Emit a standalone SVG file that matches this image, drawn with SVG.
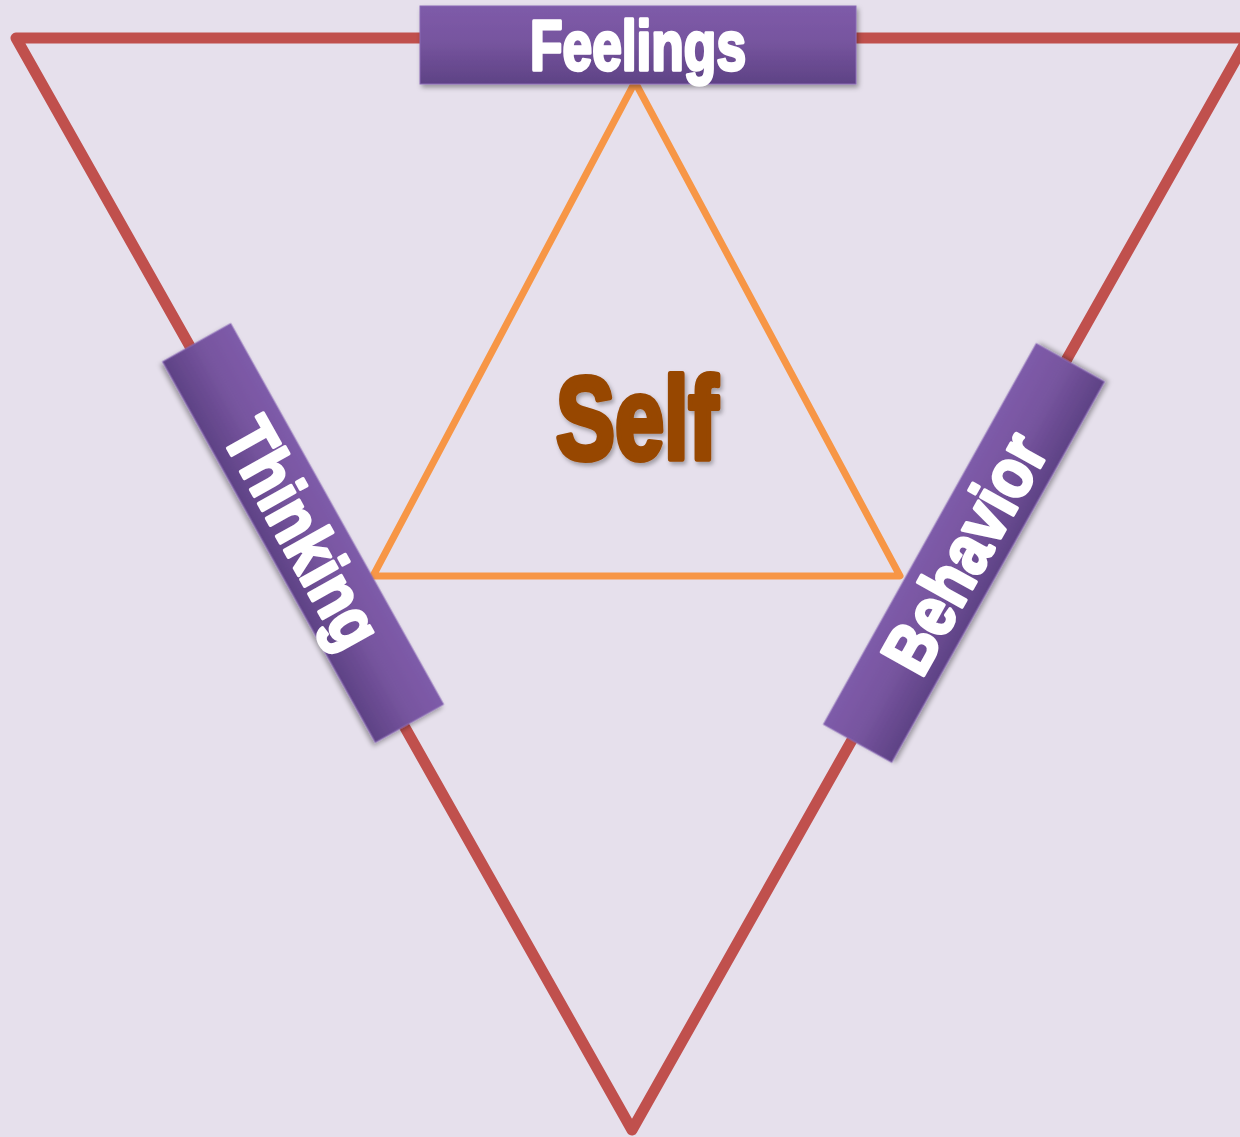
<svg xmlns="http://www.w3.org/2000/svg" width="1240" height="1137" viewBox="0 0 1240 1137">
<defs>
<linearGradient id="boxGrad" x1="0" y1="0" x2="0" y2="1">
<stop offset="0" stop-color="#7E5BA9"/>
<stop offset="0.45" stop-color="#77559F"/>
<stop offset="1" stop-color="#5E4285"/>
</linearGradient>
<filter id="shadow" x="-20%" y="-40%" width="140%" height="180%">
<feDropShadow dx="2" dy="3" stdDeviation="2.5" flood-color="#000" flood-opacity="0.35"/>
</filter>
<filter id="tshadow" x="-20%" y="-20%" width="140%" height="140%">
<feDropShadow dx="2" dy="3" stdDeviation="2" flood-color="#000" flood-opacity="0.3"/>
</filter>
</defs>
<style>
.bg{fill:#E6E0EC}
.outer{fill:none;stroke:#C0504D;stroke-width:11;stroke-linejoin:round;stroke-linecap:round}
.inner{fill:none;stroke:#F79646;stroke-width:7;stroke-linejoin:round;stroke-linecap:round}
.box{fill:url(#boxGrad);stroke:#8A6AB5;stroke-width:1;filter:url(#shadow)}
.lbl{font-family:"Liberation Sans",Arial,sans-serif;font-weight:bold;font-size:70px;fill:#FFFFFF;stroke:#FFFFFF;stroke-width:3.5;stroke-linejoin:round;text-anchor:middle}
.self{font-family:"Liberation Sans",Arial,sans-serif;font-weight:bold;font-size:116px;fill:#974706;stroke:#974706;stroke-width:6;stroke-linejoin:round;text-anchor:middle;filter:url(#tshadow)}
</style>
<rect class="bg" x="0" y="0" width="1240" height="1137"/>
<g id="connectors">
<polygon class="outer" points="16,38 1248,38 632,1130"/>
<polygon class="inner" points="635,82 900,576 373,576"/>
</g>
<g id="self">
<text class="self" x="637" y="459" textLength="162" lengthAdjust="spacingAndGlyphs">Self</text>
</g>
<g id="feelings" transform="translate(638,45)">
<rect class="box" x="-218" y="-39" width="436" height="78"/>
<text class="lbl" x="0" y="24.5" textLength="216" lengthAdjust="spacingAndGlyphs">Feelings</text>
</g>
<g id="thinking" transform="translate(303,533) rotate(60.8)">
<rect class="box" x="-218" y="-39" width="436" height="78"/>
<text class="lbl" x="0" y="24.5" textLength="250" lengthAdjust="spacingAndGlyphs">Thinking</text>
</g>
<g id="behavior" transform="translate(964,553) rotate(-60.8)">
<rect class="box" x="-218" y="-39" width="436" height="78"/>
<text class="lbl" x="0" y="24.5" textLength="262" lengthAdjust="spacingAndGlyphs">Behavior</text>
</g>
</svg>
